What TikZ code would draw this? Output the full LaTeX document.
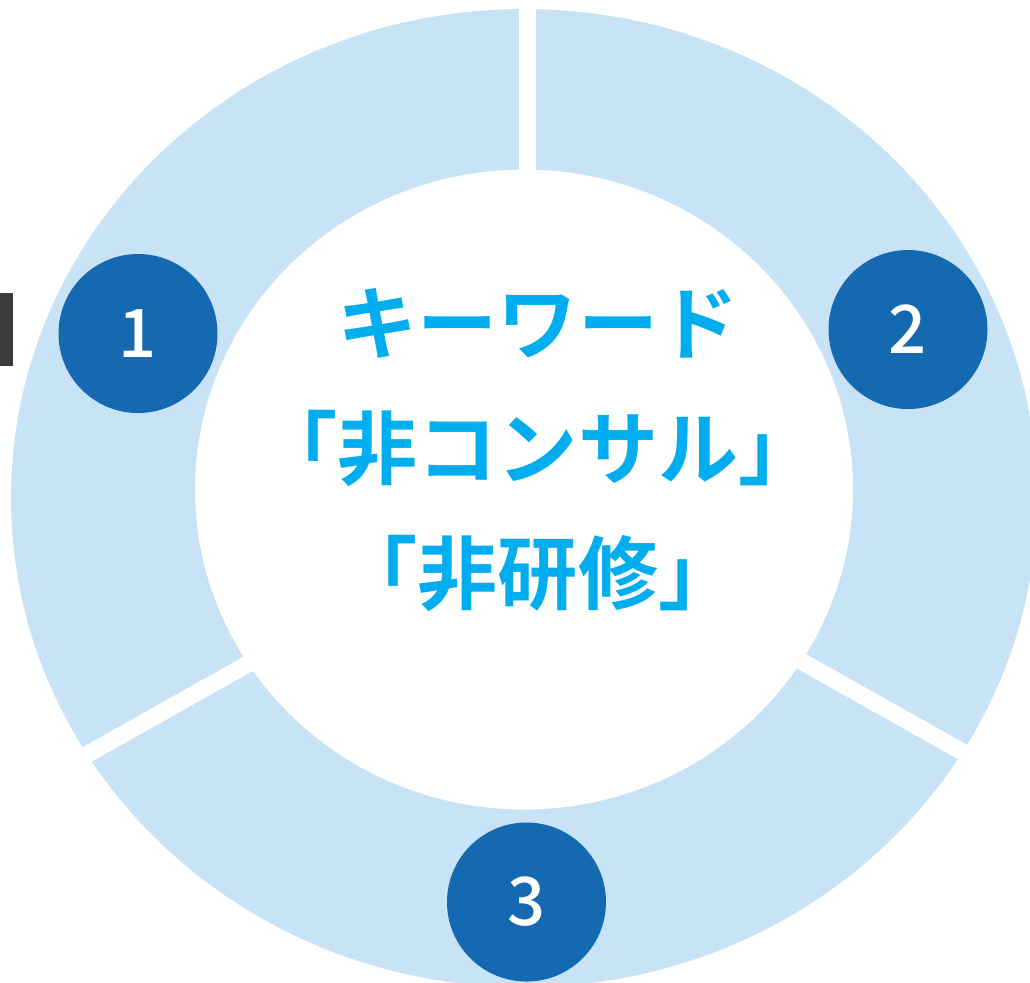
\documentclass[tikz,border=0pt]{standalone}
\usepackage{fontspec}
\newfontfamily\jpfont{Noto Sans CJK JP}[BoldFont={Noto Sans CJK JP Bold}]
\newfontfamily\jpmed{Noto Sans CJK JP Medium}
\definecolor{ringblue}{RGB}{201,227,246}
\definecolor{numblue}{RGB}{21,105,177}
\definecolor{keycyan}{RGB}{0,174,239}
\definecolor{tabgray}{RGB}{60,60,60}
\tikzset{
  gap/.style={draw=white, line width=1.7mm},
  numdot/.style={circle, fill=numblue, minimum size=15.9mm, inner sep=0pt,
    text=white, font=\jpmed\fontsize{19pt}{19pt}\selectfont},
  keyword/.style={align=center, text=keycyan,
    font=\jpfont\bfseries\fontsize{22.8pt}{35.6pt}\selectfont}
}

\begin{document}
\begin{tikzpicture}[x=0.1mm,y=-0.1mm]
\useasboundingbox (0,0) rectangle (1030,982);
\clip (0,0) rectangle (1030,982);
\fill[ringblue,even odd rule] (524,498) ellipse [x radius=513, y radius=489]
  (524,489.5) ellipse [x radius=329, y radius=320];
\coordinate (hub) at (527,507);
\draw[gap] (hub) -- (527,-10);
\draw[gap] (hub) -- (-10,809);
\draw[gap] (hub) -- (1064,809);
\fill[tabgray] (0,293) rectangle (12.7,366);
\node[numdot] (one) at (138,333.5) {1};
\node[numdot] (two) at (908,329.5) {2};
\node[numdot] (three) at (526.5,902) {3};
\node[keyword] (key) at (538,450) {キーワード\\「非コンサル」\\「非研修」};

\end{tikzpicture}
\end{document}
